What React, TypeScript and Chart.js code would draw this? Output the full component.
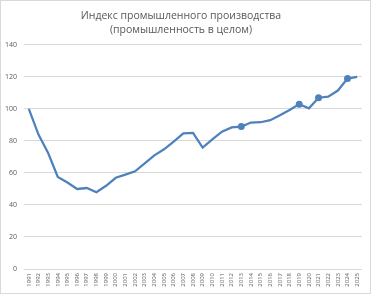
import React, { useEffect, useRef } from "react";
import { Chart, registerables } from "chart.js";

Chart.register(...registerables);

const years: string[] = [
  "1991", "1992", "1993", "1994", "1995", "1996", "1997", "1998", "1999", "2000",
  "2001", "2002", "2003", "2004", "2005", "2006", "2007", "2008", "2009", "2010",
  "2011", "2012", "2013", "2014", "2015", "2016", "2017", "2018", "2019", "2020",
  "2021", "2022", "2023", "2024", "2025",
];

const indexValues: number[] = [
  100, 84, 72.5, 57.5, 54, 50, 50.6, 48, 52, 57,
  59, 61, 66, 71, 74.8, 79.6, 84.8, 85, 75.8, 81,
  85.8, 88.5, 89, 91.5, 91.7, 93, 96, 99.4, 103, 100.4,
  107, 107.7, 111.5, 119, 120,
];

const markedYears: string[] = ["2013", "2019", "2021", "2024"];

const titleLines: string[] = [
  "Индекс промышленного производства",
  "(промышленность в целом)",
];

const yTicks: number[] = [0, 20, 40, 60, 80, 100, 120, 140];

const LINE_COLOR = "#4F81BD";
const TEXT_GRAY = "#595959";
const GRID_GRAY = "#D9D9D9";

export default function App() {
  const ref = useRef<HTMLCanvasElement | null>(null);

  useEffect(() => {
    document.body.style.margin = "0";
    const canvas = ref.current;
    if (!canvas) return;

    const borderPlugin = {
      id: "outerBorder",
      afterDraw(chart: any) {
        const ctx = chart.ctx;
        ctx.save();
        ctx.strokeStyle = "#D9D9D9";
        ctx.lineWidth = 1;
        ctx.strokeRect(0.5, 0.5, chart.width - 1, chart.height - 2);
        ctx.restore();
      },
    };

    const chart = new Chart(canvas, {
      type: "line",
      data: {
        labels: years,
        datasets: [
          {
            data: indexValues,
            borderColor: LINE_COLOR,
            backgroundColor: LINE_COLOR,
            borderWidth: 2.25,
            tension: 0,
            pointRadius: (c: any) => (markedYears.includes(years[c.dataIndex]) ? 3.5 : 0),
            pointHoverRadius: 0,
            pointBorderWidth: 0,
            pointBackgroundColor: LINE_COLOR,
          },
        ],
      },
      plugins: [borderPlugin],
      options: {
        responsive: false,
        animation: false,
        layout: { padding: { left: 0, right: 9, top: 0, bottom: 0 } },
        plugins: {
          legend: { display: false },
          tooltip: { enabled: false },
          title: {
            display: true,
            text: titleLines,
            color: TEXT_GRAY,
            font: { family: "'Open Sans', 'Noto Sans', sans-serif", size: 10.5, weight: "normal", lineHeight: 1.33 },
            padding: { top: 9, bottom: 8 },
          },
        },
        scales: {
          x: {
            offset: true,
            grid: { display: false, drawTicks: false },
            border: { display: false },
            ticks: {
              autoSkip: false,
              maxRotation: 90,
              minRotation: 90,
              padding: 4,
              color: TEXT_GRAY,
              font: { family: "'Open Sans', 'Noto Sans', sans-serif", size: 6 },
            },
            afterFit(scale: any) {
              scale.height = 26;
            },
          },
          y: {
            min: 0,
            max: 140,
            afterBuildTicks(scale: any) {
              scale.ticks = yTicks.map((v) => ({ value: v }));
            },
            grid: { color: GRID_GRAY, lineWidth: 1, drawTicks: false },
            border: { display: false },
            ticks: {
              padding: 7,
              color: TEXT_GRAY,
              font: { family: "'Open Sans', 'Noto Sans', sans-serif", size: 7 },
            },
            afterFit(scale: any) {
              scale.width = 24;
            },
          },
        },
      },
    } as any);

    return () => chart.destroy();
  }, []);

  return (
    <div style={{ position: "fixed", left: 0, top: 0, width: 371, height: 295 }}>
      <canvas ref={ref} width={371} height={295} style={{ width: 371, height: 295 }} />
    </div>
  );
}
